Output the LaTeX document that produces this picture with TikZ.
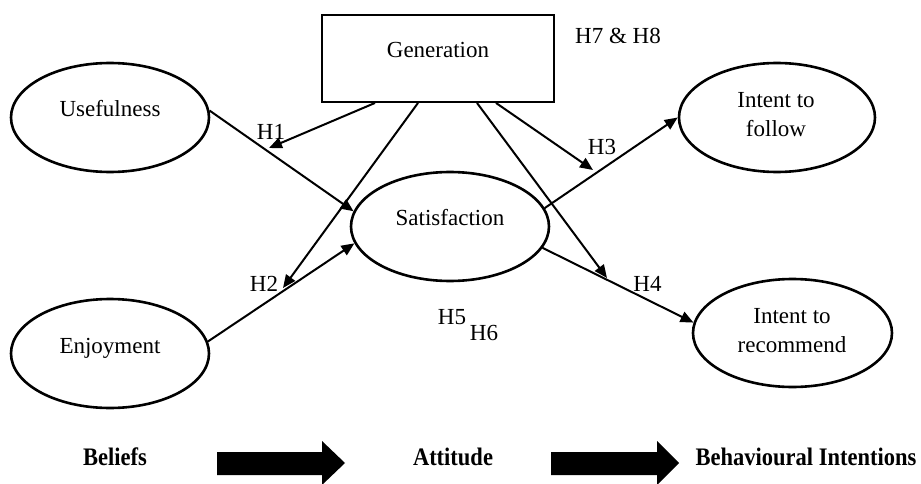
\documentclass[tikz,border=0pt]{standalone}
\usepackage{fontspec}
\usepackage{graphicx}
\setmainfont{Liberation Serif}
\usetikzlibrary{arrows.meta,calc,shapes.geometric}
\begin{document}
\begin{tikzpicture}[x=1pt,y=-1pt,
  every node/.style={font=\fontsize{23}{29}\selectfont},
  ell/.style={draw, ellipse, line width=2.6pt, inner sep=0pt, minimum width=198pt, minimum height=109pt},
  box/.style={draw, rectangle, line width=1.9pt, inner sep=0pt, minimum width=232pt, minimum height=87pt},
  lbl/.style={anchor=base, inner sep=0pt, align=center},
  conn/.style={line width=2pt, -{Triangle[length=13pt,width=11pt]}},
  big/.style={font=\bfseries\fontsize{22.5}{27}\selectfont},
  blockarrow/.style={fill=black}
]
\useasboundingbox (0,0) rectangle (921,484);

% shapes
\node[box] (gen) at (438,58.5) {};
\node[ell] (use) at (110,117.5) {};
\node[ell] (enj) at (110,353.5) {};
\node[ell] (sat) at (450,226.5) {};
\node[ell, minimum width=196pt] (fol) at (777,117.5) {};
\node[ell, minimum width=199pt, minimum height=108pt] (rec) at (792.5,333) {};

% texts
\node[lbl] (tgen) at (438,58) {Generation};
\node[lbl] (tuse) at (110,117) {Usefulness};
\node[lbl] (tenj) at (110,353) {Enjoyment};
\node[lbl] (tsat) at (450,225) {Satisfaction};
\node[lbl] (tfol) at (776,137) {Intent to\\follow};
\node[lbl] (trec) at (792,352) {Intent to\\recommend};

% hypothesis labels
\node[lbl] (lh1) at (271,140) {H1};
\node[lbl] (lh2) at (264,291) {H2};
\node[lbl] (lh3) at (602,155) {H3};
\node[lbl] (lh4) at (647.5,291) {H4};
\node[lbl] (lh5) at (452,324) {H5};
\node[lbl] (lh6) at (484,340) {H6};
\node[lbl] (lh78) at (618,44) {H7 \& H8};

% connectors
\draw[conn] (use.4) -- (sat.171);
\draw[conn] (enj.7) -- (sat.190);
\draw[conn] (sat.11) -- (fol.180);
\draw[conn] (sat.-13) -- (rec.174);

\coordinate (h1) at (269,148);
\coordinate (h2) at (283,288);
\coordinate (h3) at (593,170);
\coordinate (h4) at (607,278);
\draw[conn] ($(gen.south)+(-63,0)$) -- (h1);
\draw[conn] ($(gen.south)+(-20,0)$) -- (h2);
\draw[conn] ($(gen.south)+(58,0)$) -- (h3);
\draw[conn] ($(gen.south)+(39,0)$) -- (h4);

% bottom row
\node[lbl,big] (bel) at (115,465) {\scalebox{1}[1.12]{Beliefs}};
\node[lbl,big] (att) at (453,465) {\scalebox{1}[1.12]{Attitude}};
\node[lbl,big] (bi) at (806,465) {\scalebox{1}[1.12]{Behavioural Intentions}};
\fill[blockarrow] (217,452) -- (322,452) -- (322,441) -- (345,463) -- (322,485) -- (322,475) -- (217,475) -- cycle;
\fill[blockarrow] (551,452) -- (657,452) -- (657,441) -- (679,463) -- (657,485) -- (657,475) -- (551,475) -- cycle;
\end{tikzpicture}
\end{document}
